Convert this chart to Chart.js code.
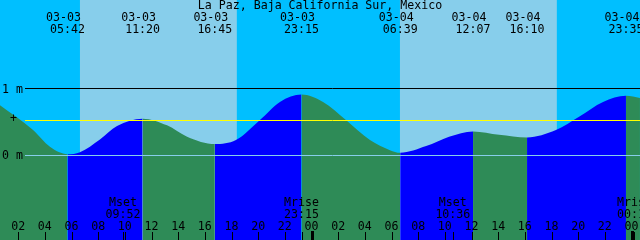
<!DOCTYPE html>
<html>
<head>
<meta charset="utf-8">
<script src="https://cdn.jsdelivr.net/npm/chart.js@4"></script>
<style>
  body { margin: 0; background: #fff; }
  #tide { display: block; }
</style>
</head>
<body>
<canvas id="tide" width="640" height="240"></canvas>
<script>
// Datos de marea (metros)
const titulo = "La Paz, Baja California Sur, Mexico";

const tideTimes = [
  "03-03 00:38", "03-03 03:07", "03-03 04:23", "03-03 05:42", "03-03 06:38",
  "03-03 08:08", "03-03 09:25", "03-03 11:20", "03-03 13:10", "03-03 14:40",
  "03-03 16:45", "03-03 18:20", "03-03 20:08", "03-03 21:38", "03-03 23:15",
  "03-04 00:52", "03-04 02:35", "03-04 04:23", "03-04 05:53", "03-04 06:39",
  "03-04 08:36", "03-04 10:19", "03-04 12:07", "03-04 14:04", "03-04 16:10",
  "03-04 18:20", "03-04 20:04", "03-04 21:52", "03-04 23:35", "03-05 00:38"
];
const tideLevels = [
  0.75, 0.38, 0.13, 0.02, 0.05,
  0.24, 0.44, 0.55, 0.45, 0.28,
  0.17, 0.23, 0.53, 0.80, 0.91,
  0.80, 0.53, 0.23, 0.08, 0.04,
  0.14, 0.28, 0.36, 0.31, 0.27,
  0.38, 0.58, 0.80, 0.89, 0.86
];

// Pleamares y bajamares (etiquetas de arriba)
const extremeDates = ["03-03", "03-03", "03-03", "03-03", "03-04", "03-04", "03-04", "03-04"];
const extremeClock = ["05:42", "11:20", "16:45", "23:15", "06:39", "12:07", "16:10", "23:35"];

// Salida / puesta del sol
const sunrise = ["03-03 06:38", "03-04 06:38"];
const sunset  = ["03-03 18:24", "03-04 18:24"];

// Luna
const moonNames = ["Mset", "Mrise", "Mset", "Mrise"];
const moonTimes = ["03-03 09:52", "03-03 23:15", "03-04 10:36", "03-05 00:13"];

// Eje de horas
const tickHours  = [2, 4, 6, 8, 10, 12, 14, 16, 18, 20, 22, 24, 26, 28, 30, 32, 34, 36, 38, 40, 42, 44, 46, 48];
const tickLabels = ["02", "04", "06", "08", "10", "12", "14", "16", "18", "20", "22", "00",
                    "02", "04", "06", "08", "10", "12", "14", "16", "18", "20", "22", "00"];

const levelLabels = [1, 0];   // "1 m", "0 m"
const meanLevel = 0.52;       // línea amarilla "+"

const START_H = 0.6375;
const SPAN_H = 48;

const NIGHT = "#00BFFF";
const DAY = "#87CEEB";
const EBB = "#2E8B57";
const FLOOD = "#0000FF";
const FONT = '11.6px "DejaVu Sans Mono", monospace';

function hoursOf(s) {
  // "MM-DD HH:MM" -> horas desde 03-03 00:00
  const [fecha, hora] = s.split(" ");
  const dia = parseInt(fecha.split("-")[1], 10);
  const [hh, mm] = hora.split(":").map(Number);
  return (dia - 3) * 24 + hh + mm / 60;
}

const puntos = tideTimes.map((t, i) => ({ x: hoursOf(t), y: tideLevels[i] }));

const decoracion = {
  id: "decoracion",
  beforeDatasetsDraw(chart) {
    const { ctx, chartArea: a, scales: { x } } = chart;
    ctx.save();
    ctx.fillStyle = NIGHT;
    ctx.fillRect(a.left, a.top, a.width, a.height);
    ctx.fillStyle = DAY;
    sunrise.forEach((r, i) => {
      const x0 = x.getPixelForValue(hoursOf(r));
      const x1 = x.getPixelForValue(hoursOf(sunset[i]));
      ctx.fillRect(x0, a.top, x1 - x0, a.height);
    });
    ctx.restore();
  },
  afterDatasetsDraw(chart) {
    const { ctx, chartArea: a, scales: { x, y } } = chart;
    ctx.save();

    // lineas de nivel
    const hline = (v, color) => {
      const py = Math.floor(y.getPixelForValue(v)) + 0.5;
      ctx.strokeStyle = color;
      ctx.lineWidth = 1;
      ctx.beginPath();
      ctx.moveTo(25, py);
      ctx.lineTo(a.right, py);
      ctx.stroke();
    };
    hline(0, "#87CEEB");
    hline(1, "#000000");
    hline(meanLevel, "#FFFF00");

    ctx.fillStyle = "#000";
    ctx.font = FONT;
    ctx.textBaseline = "alphabetic";

    // etiquetas de nivel
    ctx.textAlign = "left";
    levelLabels.forEach(v => {
      ctx.fillText(v + " m", 2, Math.round(y.getPixelForValue(v)) + 4);
    });
    ctx.textAlign = "center";
    ctx.fillText("+", 13.5, Math.round(y.getPixelForValue(meanLevel)) + 1);

    // titulo
    ctx.fillText(titulo, 320, 9);

    // extremos
    extremeDates.forEach((d, i) => {
      const px = x.getPixelForValue(hoursOf(d + " " + extremeClock[i]));
      ctx.fillText(d, px - 4, 21);
      ctx.fillText(extremeClock[i], px, 33);
    });

    // luna
    moonNames.forEach((n, i) => {
      const px = x.getPixelForValue(hoursOf(moonTimes[i]));
      ctx.fillText(n, px, 206);
      ctx.fillText(moonTimes[i].split(" ")[1], px, 218);
      ctx.fillRect(Math.round(px), 232, 1, 8);
    });

    // eje de horas
    tickHours.forEach((h, i) => {
      const px = x.getPixelForValue(h);
      ctx.fillText(tickLabels[i], px, 230);
      if (tickLabels[i] === "00") {
        ctx.fillRect(Math.round(px) - 1, 231, 3, 9);
      } else {
        ctx.fillRect(Math.round(px), 232, 1, 8);
      }
    });

    ctx.restore();
  }
};

new Chart(document.getElementById("tide"), {
  type: "line",
  data: {
    datasets: [{
      data: puntos,
      borderWidth: 0,
      pointRadius: 0,
      cubicInterpolationMode: "monotone",
      fill: "start",
      backgroundColor: EBB,
      segment: {
        backgroundColor: c => c.p1.parsed.y > c.p0.parsed.y ? FLOOD : EBB
      }
    }]
  },
  options: {
    responsive: false,
    animation: false,
    events: [],
    layout: { padding: 0 },
    plugins: { legend: { display: false }, tooltip: { enabled: false } },
    scales: {
      x: { type: "linear", display: false, min: START_H, max: START_H + SPAN_H },
      y: { display: false, min: -1.2612, max: 2.3209 }
    }
  },
  plugins: [decoracion]
});
</script>
</body>
</html>
